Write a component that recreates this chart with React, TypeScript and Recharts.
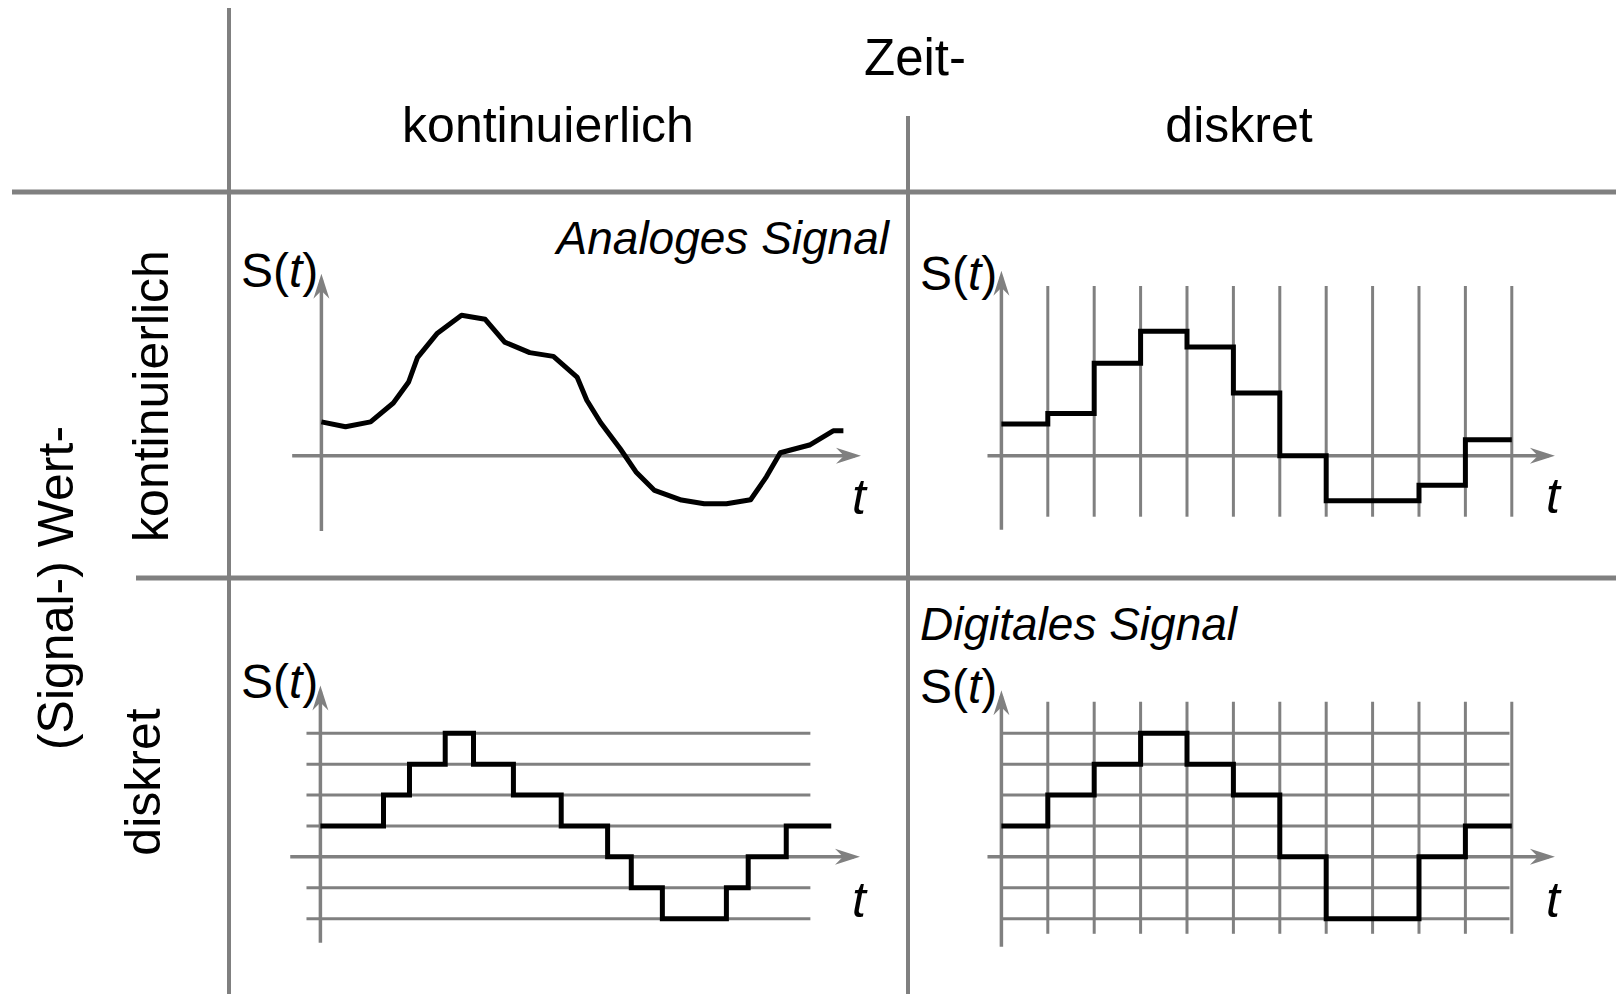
import React from "react";
import { LineChart, Line, XAxis, YAxis } from "recharts";

// ---- data (t in sample periods, S in quantisation levels) ----
const analogT = [0, 0.52, 1.06, 1.55, 1.88, 2.07, 2.50, 3.02, 3.53, 3.95, 4.49, 5.0, 5.51, 5.72, 6.02, 6.44, 6.78, 7.18, 7.76, 8.25, 8.73, 9.25, 9.59, 9.89, 10.52, 11.03, 11.25];
const analogS = [1.10, 0.94, 1.10, 1.71, 2.39, 3.18, 3.97, 4.55, 4.42, 3.68, 3.34, 3.22, 2.55, 1.80, 1.07, 0.23, -0.52, -1.12, -1.43, -1.55, -1.55, -1.42, -0.68, 0.10, 0.35, 0.81, 0.81];

const sampleTicks = [0, 1, 2, 3, 4, 5, 6, 7, 8, 9, 10, 11];
const sampledS = [1.03, 1.37, 3.0, 4.03, 3.52, 2.03, 0, -1.45, -1.45, -0.95, 0.52];

const quantT = [0, 1.36, 1.92, 2.69, 3.30, 4.16, 5.19, 6.19, 6.70, 7.37, 8.75, 9.22, 10.04, 11.01];
const quantS = [1, 2, 3, 4, 3, 2, 1, 0, -1, -2, -1, 0, 1];

const digitalS = [1, 2, 3, 4, 3, 2, 0, -2, -2, 0, 1];

const levels = [-2, -1, 1, 2, 3, 4];

const GRAY = "#808080";
const FONT = "'Liberation Sans', Arial, Helvetica, sans-serif";

// pixel size of one unit
const TX = 46.4;
const SY = 30.9;
const T_MIN = -1;
const T_MAX = 12.5;
const S_MIN = -3.5;
const S_MAX = 6.5;
const W = (T_MAX - T_MIN) * TX;
const H = (S_MAX - S_MIN) * SY;

type Pt = { t: number; s: number };

const toPts = (ts: number[], ss: number[]): Pt[] => ts.map((t, i) => ({ t, s: ss[i] }));
// step data: repeat the last value at the end time
const stepPts = (ts: number[], ss: number[]): Pt[] =>
    ts.map((t, i) => ({ t, s: ss[Math.min(i, ss.length - 1)] }));

const arrowDot = (dir: "right" | "up") => (props: any) => {
    const { cx, cy, index } = props;
    if (index !== 1 || cx == null) return <g key={`n${index}`} />;
    if (dir === "right") {
        const x = cx + 6;
        return <path key="ar" d={`M${x},${cy} L${x - 25},${cy - 8} L${x - 17},${cy} L${x - 25},${cy + 8} Z`} fill={GRAY} />;
    }
    const y = cy - 6;
    return <path key="au" d={`M${cx},${y} L${cx - 8},${y + 25} L${cx},${y + 17} L${cx + 8},${y + 25} Z`} fill={GRAY} />;
};

function seg(key: string, pts: Pt[], width = 3, dot: any = false) {
    return (
        <Line
            key={key}
            data={pts}
            dataKey="s"
            type="linear"
            stroke={GRAY}
            strokeWidth={width}
            dot={dot}
            activeDot={false}
            isAnimationActive={false}
        />
    );
}

function axes(xFrom: number, xTo: number, yFrom: number, yTo: number) {
    return [
        seg("xa", [{ t: xFrom, s: 0 }, { t: xTo, s: 0 }], 3.5, arrowDot("right")),
        seg("ya", [{ t: 0, s: yFrom }, { t: 0, s: yTo }], 3.5, arrowDot("up")),
    ];
}

function signal(pts: Pt[], step: boolean) {
    return (
        <Line
            key="sig"
            data={pts}
            dataKey="s"
            type={step ? "stepAfter" : "linear"}
            stroke="#000"
            strokeWidth={5}
            strokeLinejoin={step ? "miter" : "round"}
            dot={false}
            activeDot={false}
            isAnimationActive={false}
        />
    );
}

function Panel({ ox, oy, children }: { ox: number; oy: number; children: React.ReactNode }) {
    return (
        <div style={{ position: "absolute", left: ox + T_MIN * TX, top: oy - S_MAX * SY }}>
            <LineChart width={W} height={H} margin={{ top: 0, right: 0, bottom: 0, left: 0 }}>
                <XAxis type="number" dataKey="t" domain={[T_MIN, T_MAX]} hide allowDataOverflow />
                <YAxis type="number" domain={[S_MIN, S_MAX]} hide allowDataOverflow />
                {children}
            </LineChart>
        </div>
    );
}

const St = ({ x, y }: { x: number; y: number }) => (
    <text x={x} y={y} fontSize={48} fontFamily={FONT}>
        S(<tspan fontStyle="italic">t</tspan>)
    </text>
);

const T = ({ x, y }: { x: number; y: number }) => (
    <text x={x} y={y} fontSize={50} fontFamily={FONT} fontStyle="italic">t</text>
);

export default function App() {
    const vGrid = sampleTicks.slice(1);

    return (
        <div style={{ position: "absolute", left: 0, top: 0, width: 1616, height: 994, background: "#fff", overflow: "hidden" }}>
            <svg width={1616} height={994} style={{ position: "absolute", left: 0, top: 0 }}>
                {/* table dividers */}
                <line x1={229} y1={8} x2={229} y2={994} stroke={GRAY} strokeWidth={4} />
                <line x1={908} y1={116} x2={908} y2={994} stroke={GRAY} strokeWidth={4} />
                <line x1={12} y1={192} x2={1616} y2={192} stroke={GRAY} strokeWidth={5} />
                <line x1={136} y1={578} x2={1616} y2={578} stroke={GRAY} strokeWidth={5} />

                {/* headings */}
                <text x={915} y={75} fontSize={51} fontFamily={FONT} textAnchor="middle">Zeit-</text>
                <text x={548} y={142} fontSize={50} fontFamily={FONT} textAnchor="middle">kontinuierlich</text>
                <text x={1239} y={142} fontSize={50} fontFamily={FONT} textAnchor="middle">diskret</text>
                <text transform="translate(73,588) rotate(-90)" fontSize={50} fontFamily={FONT} textAnchor="middle">(Signal-) Wert-</text>
                <text transform="translate(168,396) rotate(-90)" fontSize={50} fontFamily={FONT} textAnchor="middle">kontinuierlich</text>
                <text transform="translate(160,782) rotate(-90)" fontSize={50} fontFamily={FONT} textAnchor="middle">diskret</text>

                <text x={889} y={254} fontSize={46} fontFamily={FONT} fontStyle="italic" textAnchor="end">Analoges Signal</text>
                <text x={920} y={640} fontSize={46} fontFamily={FONT} fontStyle="italic">Digitales Signal</text>

                <St x={241} y={287} />
                <St x={920} y={290} />
                <St x={241} y={698} />
                <St x={920} y={703} />
                <T x={852} y={514} />
                <T x={1546} y={513} />
                <T x={852} y={917} />
                <T x={1546} y={917} />
            </svg>

            {/* zeit- und wertkontinuierlich: analog */}
            <Panel ox={321} oy={456}>
                {axes(-0.63, 11.5, -2.43, 5.7)}
                {signal(toPts(analogT, analogS), false)}
            </Panel>

            {/* zeitdiskret, wertkontinuierlich: abgetastet */}
            <Panel ox={1001} oy={456}>
                {vGrid.map((k) => seg(`v${k}`, [{ t: k, s: -1.97 }, { t: k, s: 5.5 }]))}
                {axes(-0.3, 11.8, -2.39, 5.8)}
                {signal(stepPts(sampleTicks, sampledS), true)}
            </Panel>

            {/* zeitkontinuierlich, wertdiskret: quantisiert */}
            <Panel ox={320} oy={857}>
                {levels.map((l) => seg(`h${l}`, [{ t: -0.3, s: l }, { t: 10.56, s: l }]))}
                {axes(-0.65, 11.5, -2.78, 5.35)}
                {signal(stepPts(quantT, quantS), true)}
            </Panel>

            {/* digital */}
            <Panel ox={1001} oy={857}>
                {levels.map((l) => seg(`h${l}`, [{ t: 0, s: l }, { t: 10.95, s: l }]))}
                {vGrid.map((k) => seg(`v${k}`, [{ t: k, s: -2.49 }, { t: k, s: 5.02 }]))}
                {axes(-0.3, 11.8, -2.91, 5.2)}
                {signal(stepPts(sampleTicks, digitalS), true)}
            </Panel>
        </div>
    );
}
